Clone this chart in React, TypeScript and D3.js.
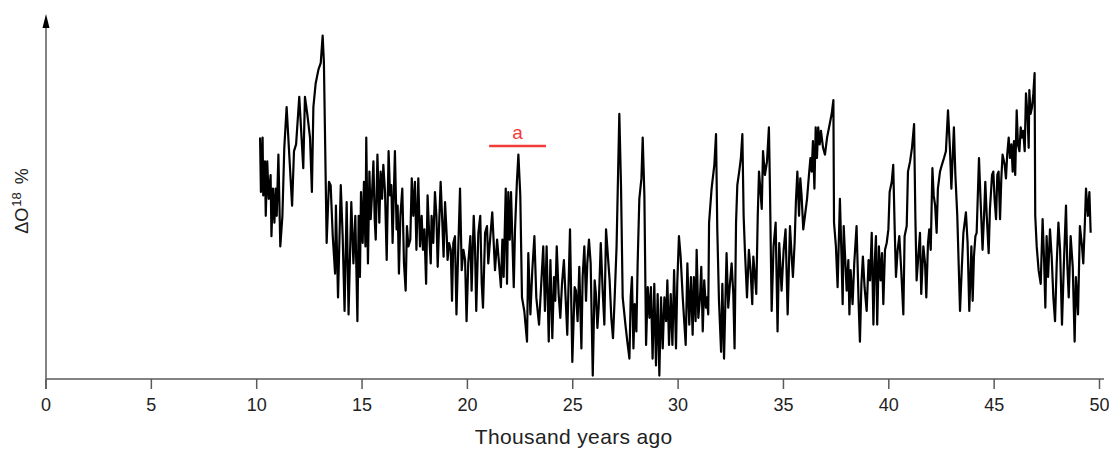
import React from 'react';
import * as d3 from 'd3';

// δ18O record, age in thousand years ago vs relative value
const record: [number, number][] = [
  [10.16,71],[10.20,55],[10.28,71],[10.31,54],[10.39,64],[10.43,48],[10.50,64],[10.57,53],[10.66,60],[10.70,42],[10.77,56],[10.84,46],[10.90,56],[10.95,48],[11.03,66],[11.12,39],[11.22,48],[11.31,68],[11.42,80],[11.68,51],[11.77,67],[11.87,69],[12.02,83],[12.21,62],[12.29,83],[12.40,78],[12.53,71],[12.62,55],[12.69,80],[12.80,87],[12.93,91],[13.04,93],[13.13,101],[13.19,93],[13.32,40],[13.43,58],[13.51,57],[13.61,42],[13.72,31],[13.76,51],[13.86,24],[13.99,57],[14.08,42],[14.17,20],[14.27,52],[14.36,19],[14.49,52],[14.59,34],[14.68,48],[14.78,17],[14.84,48],[14.90,30],[14.95,55],[15.03,40],[15.09,58],[15.16,39],[15.20,71],[15.28,34],[15.35,61],[15.41,47],[15.47,54],[15.54,64],[15.60,47],[15.65,41],[15.73,66],[15.82,46],[15.88,61],[15.95,53],[16.01,63],[16.09,55],[16.17,35],[16.26,67],[16.33,54],[16.39,57],[16.45,40],
  [16.56,67],[16.64,44],[16.69,51],[16.75,31],[16.82,48],[16.91,56],[16.99,34],[17.07,26],[17.13,45],[17.20,39],[17.29,41],[17.36,59],[17.43,48],[17.51,58],[17.58,38],[17.67,59],[17.75,39],[17.83,48],[17.89,38],[17.96,44],[18.04,28],[18.11,54],[18.19,42],[18.26,34],[18.30,48],[18.38,40],[18.46,55],[18.53,48],[18.59,33],[18.65,44],[18.73,58],[18.81,46],[18.87,36],[18.94,52],[19.02,42],[19.06,35],[19.13,40],[19.21,38],[19.27,23],[19.33,40],[19.41,42],[19.48,19],[19.57,39],[19.65,56],[19.73,32],[19.81,38],[19.89,35],[19.96,17],[20.04,34],[20.14,42],[20.20,26],[20.30,48],[20.36,39],[20.42,20],[20.52,43],[20.61,48],[20.68,28],[20.74,21],[20.84,43],[20.93,45],[20.99,34],[21.09,42],[21.18,49],[21.31,32],[21.41,41],[21.50,34],[21.59,27],[21.66,41],[21.72,30],[21.82,56],[21.88,28],[21.94,55],[22.01,41],[22.07,55],[22.13,42],[22.20,27],[22.26,44],[22.35,58],[22.42,66],[22.51,54],[22.59,24],[22.70,20],[22.83,11],[22.89,37],[22.99,19],[23.08,32],[23.18,42],[23.27,24],[23.40,16],
  [23.60,39],[23.68,20],[23.76,39],[23.86,11],[23.94,35],[24.03,12],[24.11,30],[24.17,23],[24.24,39],[24.33,25],[24.41,18],[24.49,28],[24.58,35],[24.66,24],[24.74,13],[24.87,44],[24.98,5],[25.09,27],[25.15,26],[25.23,17],[25.31,33],[25.41,9],[25.47,30],[25.55,39],[25.63,23],[25.69,34],[25.77,41],[25.85,34],[25.95,1],[26.04,29],[26.10,25],[26.17,15],[26.23,21],[26.33,40],[26.42,26],[26.50,16],[26.58,44],[26.67,36],[26.75,29],[26.83,18],[26.91,12],[26.99,24],[27.08,39],[27.21,78],[27.29,57],[27.37,24],[27.50,16],[27.59,11],[27.69,6],[27.75,24],[27.81,30],[27.88,9],[27.94,22],[28.02,14],[28.08,34],[28.16,53],[28.26,59],[28.32,71],[28.40,54],[28.48,10],[28.56,27],[28.64,18],[28.71,27],[28.79,6],[28.87,28],[28.95,4],[29.03,25],[29.11,1],[29.19,24],[29.27,9],[29.35,24],[29.43,17],[29.49,29],[29.57,10],[29.65,25],[29.73,10],[29.81,32],[29.90,9],[29.96,28],[30.04,42],[30.12,36],[30.22,24],[30.36,10],[30.44,34],
  [30.53,16],[30.61,30],[30.69,13],[30.75,30],[30.83,17],[30.88,38],[30.96,18],[31.04,24],[31.10,33],[31.17,14],[31.24,29],[31.32,21],[31.37,24],[31.43,19],[31.47,46],[31.59,56],[31.72,63],[31.80,72],[31.86,44],[31.94,23],[32.04,8],[32.10,28],[32.18,6],[32.23,19],[32.30,37],[32.38,21],[32.46,28],[32.54,34],[32.62,25],[32.68,9],[32.75,46],[32.81,57],[32.90,61],[32.98,65],[33.05,72],[33.11,48],[33.17,38],[33.27,24],[33.36,38],[33.44,32],[33.52,22],[33.57,36],[33.65,30],[33.71,25],[33.78,48],[33.84,61],[33.90,56],[33.97,50],[34.03,67],[34.12,60],[34.22,64],[34.31,74],[34.36,56],[34.44,20],[34.53,39],[34.63,46],[34.72,14],[34.80,40],[34.91,26],[35.01,38],[35.10,44],[35.20,19],[35.31,45],[35.39,36],[35.45,30],[35.53,40],[35.59,52],[35.66,61],[35.74,48],[35.80,59],[35.86,54],[35.94,44],[36.02,48],[36.12,53],[36.21,60],[36.28,65],[36.34,61],[36.40,70],[36.47,56],[36.53,74],[36.59,65],[36.65,74],[36.72,69],[36.78,73],[36.88,68],[36.97,66],[37.07,71],[37.29,78],[37.37,82],
  [37.40,46],[37.49,39],[37.57,27],[37.68,53],[37.76,35],[37.81,22],[37.86,45],[37.94,34],[38.00,26],[38.08,35],[38.13,19],[38.19,32],[38.28,22],[38.36,34],[38.47,45],[38.57,22],[38.63,11],[38.70,28],[38.77,36],[38.85,27],[38.95,20],[39.04,35],[39.11,29],[39.19,43],[39.27,16],[39.33,34],[39.39,42],[39.45,16],[39.53,39],[39.61,29],[39.68,37],[39.74,22],[39.82,38],[39.90,40],[39.98,44],[40.04,55],[40.14,58],[40.21,63],[40.28,44],[40.34,30],[40.42,38],[40.50,42],[40.59,32],[40.69,19],[40.75,42],[40.85,45],[40.91,61],[41.01,64],[41.10,68],[41.20,75],[41.26,48],[41.32,29],[41.40,36],[41.48,43],[41.54,25],[41.64,39],[41.72,34],[41.78,24],[41.86,40],[41.92,44],[41.99,38],[42.07,62],[42.13,54],[42.20,51],[42.27,43],[42.33,56],[42.43,61],[42.52,63],[42.62,65],[42.71,67],[42.81,79],[42.90,68],[42.97,56],[43.03,65],[43.09,74],[43.16,60],[43.25,48],[43.38,20],
  [43.46,32],[43.54,43],[43.66,49],[43.74,40],[43.82,20],[43.92,39],[43.98,23],[44.04,36],[44.11,42],[44.17,43],[44.28,65],[44.36,52],[44.45,38],[44.52,48],[44.58,58],[44.64,49],[44.74,37],[44.80,50],[44.90,60],[44.96,61],[45.02,53],[45.09,47],[45.15,60],[45.21,61],[45.28,47],[45.34,59],[45.40,66],[45.50,63],[45.56,59],[45.62,66],[45.69,71],[45.75,65],[45.82,69],[45.88,61],[45.94,70],[46.00,60],[46.07,79],[46.13,69],[46.20,67],[46.26,74],[46.32,71],[46.38,73],[46.45,67],[46.51,84],[46.58,78],[46.64,68],[46.67,85],[46.73,78],[46.80,80],[46.86,84],[46.92,90],[46.95,48],[47.02,39],[47.11,32],[47.21,28],[47.30,47],[47.37,35],[47.43,21],[47.49,42],[47.56,30],[47.65,44],[47.73,36],[47.81,24],[47.89,17],[47.97,34],[48.05,46],[48.13,38],[48.22,16],[48.31,34],[48.41,51],[48.47,34],[48.54,24],[48.63,42],[48.73,33],[48.82,11],[48.88,30],[48.98,19],[49.07,45],[49.17,39],[49.23,34],[49.30,45],[49.36,56],[49.45,48],[49.52,55],[49.58,43],
];

const xTicks = [0, 5, 10, 15, 20, 25, 30, 35, 40, 45, 50];
const xTitle = 'Thousand years ago';
const markLabel = 'a';
const markSpan = [21.03, 23.73];
const markLevel = 68.5;

const W = 1109;
const H = 449;
const margin = { top: 39, right: 9.5, bottom: 70, left: 46 };

export default function App() {
  const x = d3.scaleLinear().domain([0, 50]).range([margin.left, W - margin.right]);
  const y = d3.scaleLinear().domain([0, 100]).range([H - margin.bottom, margin.top]);

  const line = d3.line<[number, number]>()
    .x((d) => x(d[0]))
    .y((d) => y(d[1]));

  const axisColor = '#5a5a5a';
  const font = '"Liberation Sans", Arial, sans-serif';
  const y0 = y(0);

  return (
    <svg width={W} height={H} style={{ position: 'absolute', left: 0, top: 0, background: '#fff' }} fontFamily={font}>
      {/* axes */}
      <line x1={margin.left} x2={1104} y1={y0} y2={y0} stroke={axisColor} strokeWidth={1.5} />
      <line x1={margin.left} x2={margin.left} y1={y0 + 10} y2={24} stroke={axisColor} strokeWidth={1.5} />
      <path d={`M${margin.left - 3.5},28 L${margin.left},14 L${margin.left + 3.5},28 Z`} fill="#000" />
      {xTicks.map((t) => (
        <g key={t} transform={`translate(${x(t)},${y0})`}>
          <line y1={0} y2={10} stroke={axisColor} strokeWidth={1.5} />
          <text y={32} textAnchor="middle" fontSize={18} fill="#222">{t}</text>
        </g>
      ))}
      <text x={(x(0) + x(50)) / 2 + 1} y={443.5} textAnchor="middle" fontSize={21} letterSpacing={0.35} fill="#222">{xTitle}</text>
      <text transform={`translate(28,201) rotate(-90)`} textAnchor="middle" fontSize={18} fill="#222">
        ΔO<tspan fontSize={13} dy={-7} dx={1}>18</tspan><tspan dy={7} dx={8}>%</tspan>
      </text>

      {/* series */}
      <path d={line(record) ?? ''} fill="none" stroke="#000" strokeWidth={2.2} strokeLinejoin="round" />

      {/* annotation */}
      <line x1={x(markSpan[0])} x2={x(markSpan[1])} y1={y(markLevel)} y2={y(markLevel)} stroke="#f23b3b" strokeWidth={2.5} />
      <text x={x((markSpan[0] + markSpan[1]) / 2)} y={y(markLevel) - 7} textAnchor="middle" fontSize={19} fill="#f23b3b">{markLabel}</text>
    </svg>
  );
}
